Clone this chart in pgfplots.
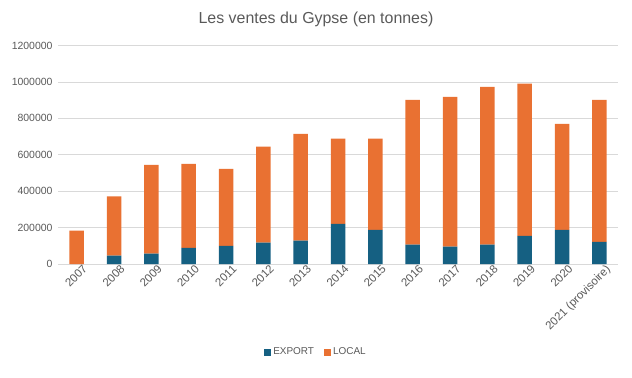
\documentclass[border=0pt]{standalone}
\usepackage{fontspec}
\setmainfont{Liberation Sans}
\usepackage{pgfplots}
\usepackage{pgfplotstable}
\pgfplotsset{compat=1.18}
\definecolor{cexport}{HTML}{156082}
\definecolor{clocal}{HTML}{E97132}
\definecolor{ctext}{HTML}{595959}
\definecolor{cgrid}{HTML}{D9D9D9}
\pgfplotstableread{
x export local
0 0 183000
1 46000 325000
2 57000 488000
3 89000 461000
4 100000 423000
5 117000 527000
6 128000 587000
7 221000 467000
8 188000 500000
9 106000 796000
10 95000 823000
11 106000 867000
12 155000 835000
13 188000 582000
14 122000 780000
}\datatable
\begin{document}
\begin{tikzpicture}[x=1bp,y=1bp]
\useasboundingbox (0,0) rectangle (632,377);
\node[text=ctext, font=\fontsize{16}{19}\selectfont] at (316,358) {Les ventes du Gypse (en tonnes)};
\begin{axis}[
  at={(58bp,113bp)}, anchor=south west,
  scale only axis, width=560bp, height=218.5bp,
  ybar stacked, bar width=14.5bp,
  xmin=-0.5, xmax=14.5, ymin=0, ymax=1200000,
  ytick={0,200000,...,1200000},
  scaled y ticks=false,
  /pgf/number format/assume math mode=true,
  yticklabel style={/pgf/number format/fixed, /pgf/number format/1000 sep={}, text=ctext, font=\fontsize{10.5}{12}\selectfont, xshift=-2bp},
  xtick=data,
  xticklabels={2007,2008,2009,2010,2011,2012,2013,2014,2015,2016,2017,2018,2019,2020,2021 (provisoire)},
  xticklabel style={rotate=45, anchor=north east, text=ctext, font=\fontsize{11.5}{13}\selectfont, inner sep=1pt, xshift=5bp, yshift=-3bp},
  major tick length=0pt,
  ymajorgrids, grid style={cgrid, line width=0.75pt},
  axis lines*=left,
  y axis line style={draw=none},
  x axis line style={cgrid, line width=0.75pt, -},
  legend style={at={(258bp,-88bp)}, anchor=center, draw=none, font=\fontsize{10}{12}\selectfont, text=ctext, legend columns=2, /tikz/every even column/.append style={column sep=8bp}},
  legend image code/.code={\fill[#1] (0,-3.5bp) rectangle (7bp,3.5bp);},
  clip=false,
]
\addplot[fill=cexport, draw=none] table[x=x, y=export] {\datatable};
\addlegendentry{EXPORT}
\addplot[fill=clocal, draw=none] table[x=x, y=local] {\datatable};
\addlegendentry{LOCAL}
\end{axis}
\end{tikzpicture}
\end{document}
